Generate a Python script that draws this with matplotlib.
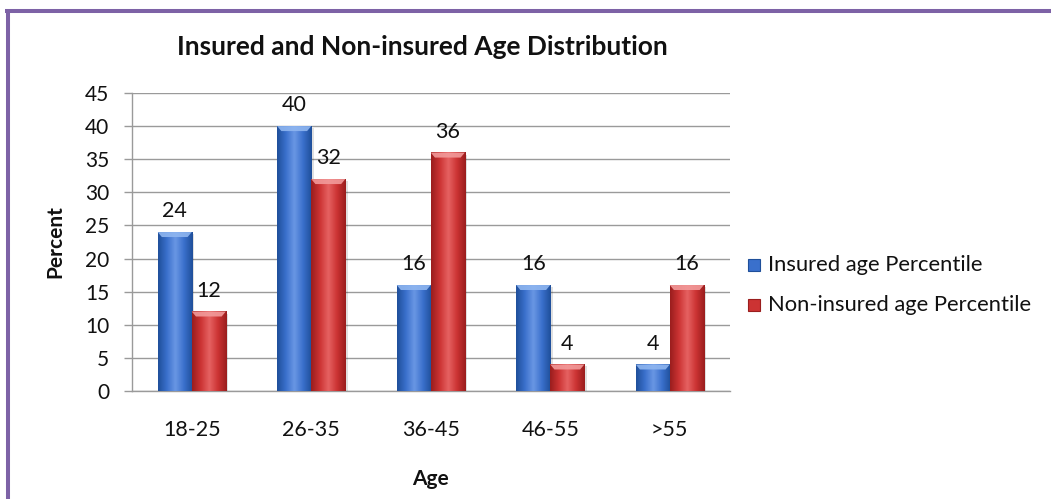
import numpy as np
import matplotlib
matplotlib.use("Agg")
import matplotlib.pyplot as plt
from matplotlib.colors import LinearSegmentedColormap
from matplotlib.patches import Polygon, Rectangle
from matplotlib.lines import Line2D

# Data
age_groups = ["18-25", "26-35", "36-45", "46-55", ">55"]
insured = [24, 40, 16, 16, 4]
non_insured = [12, 32, 36, 4, 16]
series_names = ["Insured age Percentile", "Non-insured age Percentile"]
y_ticks = [0, 5, 10, 15, 20, 25, 30, 35, 40, 45]

plt.rcParams["font.family"] = ["Lato", "DejaVu Sans"]

W, H = 1051, 499
fig = plt.figure(figsize=(W / 100, H / 100), dpi=100)
fig.patch.set_facecolor("white")

# plot area in pixel units
left, right, bottom, top = 132, 729.5, 391, 93
ax = fig.add_axes([left / W, 1 - bottom / H, (right - left) / W, (bottom - top) / H])
ax.set_facecolor("white")

series = [
    (insured, {"dark": "#1f4f9a", "mid": "#3a70cc", "light": "#6a97e4", "bevel": "#8fb6f0"}),
    (non_insured, {"dark": "#9a1e1e", "mid": "#cc3333", "light": "#e66262", "bevel": "#f29a9a"}),
]

bar_w = 0.285
x = np.arange(len(age_groups))
text_color = "#111111"


def bar_cmap(c):
    return LinearSegmentedColormap.from_list(
        "bar", [c["dark"], c["mid"], c["light"], c["mid"], c["dark"]]
    )


for k, (vals, c) in enumerate(series):
    cmap = bar_cmap(c)
    grad = np.linspace(0, 1, 64)[np.newaxis, :]
    for i, v in enumerate(vals):
        x0 = x[i] - bar_w + k * bar_w
        x1 = x0 + bar_w
        # soft shadow to the lower right
        ax.add_patch(Rectangle((x0 + 0.02, 0), bar_w, v - 0.3, facecolor="#000000",
                               alpha=0.12, edgecolor="none", zorder=2.5))
        ax.imshow(grad, extent=[x0, x1, 0, v], aspect="auto", cmap=cmap,
                  zorder=3, interpolation="bicubic")
        # bevelled top
        dy, dx = 0.75, 0.035
        ax.add_patch(Polygon([(x0, v), (x1, v), (x1 - dx, v - dy), (x0 + dx, v - dy)],
                             closed=True, facecolor=c["bevel"], edgecolor="none",
                             alpha=0.9, zorder=4))
        ax.annotate(str(v), xy=(x0 + bar_w / 2, v), xytext=(0, 10.8),
                    textcoords="offset points", ha="center", va="baseline",
                    fontsize=15.5, color=text_color, zorder=5)

ax.set_xlim(-0.5, len(age_groups) - 0.5)
ax.set_ylim(0, 45)
ax.set_yticks(y_ticks)
ax.set_xticks(x)
ax.set_xticklabels(age_groups)

ax.grid(axis="y", color="#9a9a9a", linewidth=1.0, zorder=1)
ax.set_axisbelow(True)
for s in ["top", "right"]:
    ax.spines[s].set_visible(False)
for s in ["left", "bottom"]:
    ax.spines[s].set_color("#9a9a9a")
    ax.spines[s].set_linewidth(1.0)

ax.tick_params(axis="y", direction="out", length=5.8, width=1.0, color="#9a9a9a",
               labelsize=15, labelcolor=text_color, pad=10.5)
ax.tick_params(axis="x", length=0, labelsize=15.5, labelcolor=text_color, pad=21)

ax.set_xlabel("Age", fontsize=15, fontweight="bold", labelpad=21, color=text_color)
ax.set_ylabel("Percent", fontsize=15, fontweight="bold", labelpad=14, color=text_color)

fig.text(422 / W, 1 - 47 / H, "Insured and Non-insured Age Distribution",
         ha="center", va="center", fontsize=19, fontweight="bold", color=text_color)

# legend
for k, (name, (_, c)) in enumerate(zip(series_names, series)):
    yc = 265 + 40 * k
    sq = 12
    fig.patches.append(Rectangle((748 / W, 1 - (yc + sq / 2) / H), sq / W, sq / H,
                                 transform=fig.transFigure, facecolor=c["mid"],
                                 edgecolor=c["dark"], linewidth=0.8))
    fig.text(768 / W, 1 - yc / H, name, ha="left", va="center", fontsize=15.8,
             color=text_color)

# frame
purple = "#7d62a6"
fig.lines.append(Line2D([5 / W, 1], [1 - 11 / H, 1 - 11 / H], transform=fig.transFigure,
                        color=purple, linewidth=2.9, solid_capstyle="butt"))
fig.lines.append(Line2D([8 / W, 8 / W], [1 - 9 / H, 0], transform=fig.transFigure,
                        color=purple, linewidth=2.9, solid_capstyle="butt"))

fig.savefig("out.png", dpi=100, facecolor="white")
